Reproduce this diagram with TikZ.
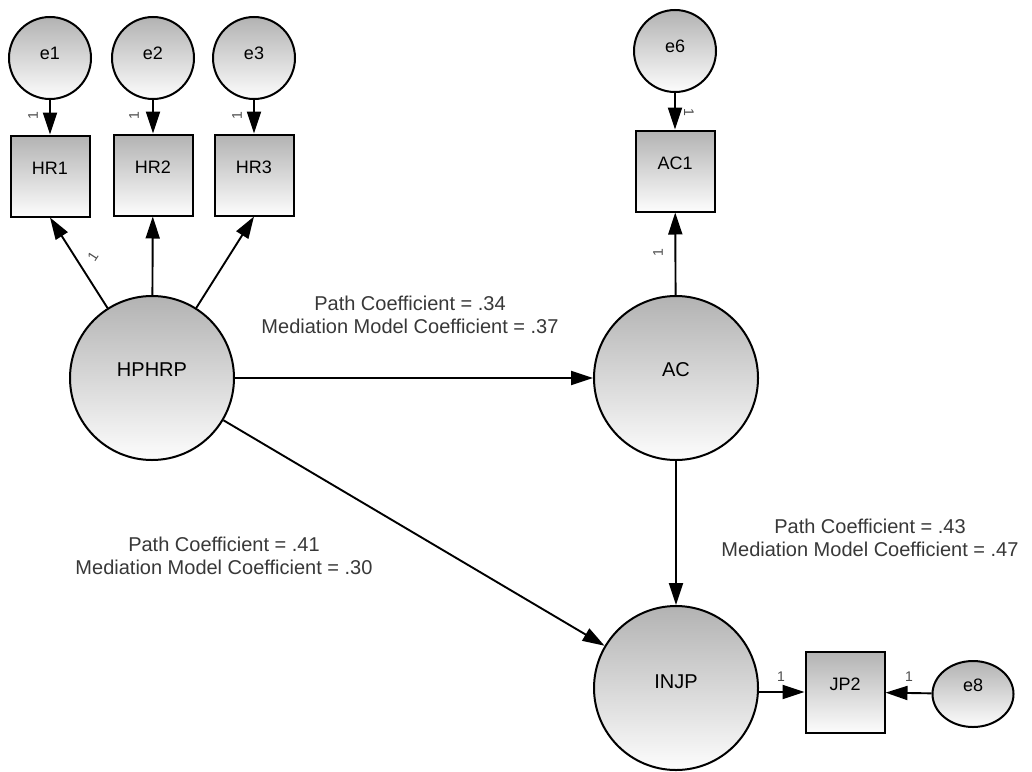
\documentclass[tikz,border=0pt]{standalone}
\usepackage{fontspec}
\setmainfont{Liberation Sans}
\usetikzlibrary{arrows.meta,shapes.geometric}
\begin{document}
\begin{tikzpicture}[x=1pt,y=-1pt,
  gfill/.style={top color=black!30, bottom color=black!1, draw=black, line width=2pt},
  latent/.style={gfill, circle, minimum size=164pt, inner sep=0pt},
  err/.style={gfill, circle, minimum size=82pt, inner sep=0pt},
  obs/.style={gfill, rectangle, minimum width=79pt, minimum height=81pt, inner sep=0pt},
  lbl/.style={font=\fontsize{18}{20}\selectfont, text=black, inner sep=0pt},
  biglbl/.style={font=\fontsize{20}{22}\selectfont, text=black, inner sep=0pt},
  arr/.style={line width=1.9pt, -{Triangle[length=22pt,width=14pt]}},
  one/.style={font=\fontsize{14}{14}\selectfont, text=black!70, inner sep=0pt},
  coef/.style={font=\fontsize{20}{23.5}\selectfont, text=black!78, align=center, inner sep=0pt}
]
\useasboundingbox[fill=white] (0,0) rectangle (1032,771);

% error terms
\node[err, label={[lbl,yshift=5pt]center:e1}] (e1) at (50,58) {};
\node[err, label={[lbl,yshift=5pt]center:e2}] (e2) at (153,58) {};
\node[err, label={[lbl,yshift=5pt]center:e3}] (e3) at (254,58) {};
\node[err, label={[lbl,yshift=5pt]center:e6}] (e6) at (675,51) {};
\node[gfill, ellipse, minimum width=81pt, minimum height=66pt, inner sep=0pt,
      label={[lbl,yshift=9pt]center:e8}] (e8) at (973,694) {};

% observed
\node[obs, label={[lbl,yshift=8pt]center:HR1}] (hr1) at (50,176) {};
\node[obs, label={[lbl,yshift=8pt]center:HR2}] (hr2) at (153,175) {};
\node[obs, label={[lbl,yshift=8pt]center:HR3}] (hr3) at (254,175) {};
\node[obs, label={[lbl,yshift=8pt]center:AC1}] (ac1) at (675,171) {};
\node[obs, label={[lbl,yshift=8pt]center:JP2}] (jp2) at (845,692) {};

% latent
\node[latent, label={[biglbl,yshift=8pt]center:HPHRP}] (hphrp) at (152,378) {};
\node[latent, label={[biglbl,yshift=8pt]center:AC}] (ac) at (676,378) {};
\node[latent, label={[biglbl,yshift=6pt]center:INJP}] (injp) at (676,688) {};

% arrows
\draw[arr] (e1) -- (hr1);
\draw[arr] (e2) -- (hr2);
\draw[arr] (e3) -- (hr3);
\draw[arr] (e6) -- (ac1);
\draw[arr] (hphrp) -- (hr1.south);
\draw[arr] (hphrp) -- (hr2);
\draw[arr] (hphrp) -- (hr3.south);
\draw[arr] (ac) -- (ac1);
\draw[arr] (hphrp) -- (ac);
\draw[arr] (hphrp) -- (injp);
\draw[arr] (ac) -- (injp);
\draw[arr] (injp.east |- jp2) -- (jp2);
\draw[arr] (e8) -- (jp2);

% fixed loadings
\node[one, rotate=90] (o1) at (33,116) {1};
\node[one, rotate=90] (o2) at (134,116) {1};
\node[one, rotate=90] (o3) at (237,116) {1};
\node[one, rotate=-90] (o6) at (689,112) {1};
\node[one, rotate=90] (oac) at (658,253) {1};
\node[one, rotate=57] (ohr) at (93,257) {1};
\node[one] (oj) at (781,677) {1};
\node[one] (oe8) at (909,677) {1};

% coefficients
\node[coef] (c1) at (410,315) {Path Coefficient = .34\\Mediation Model Coefficient = .37};
\node[coef] (c2) at (224,556) {Path Coefficient = .41\\Mediation Model Coefficient = .30};
\node[coef] (c3) at (870,538) {Path Coefficient = .43\\Mediation Model Coefficient = .47};
\end{tikzpicture}
\end{document}
